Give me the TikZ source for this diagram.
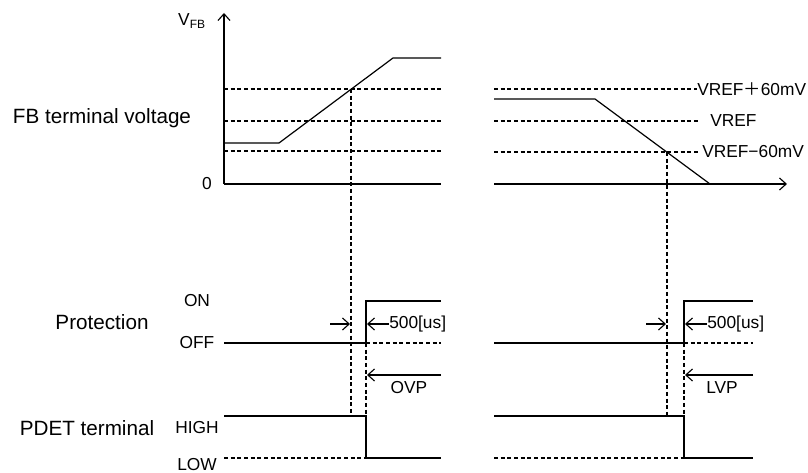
\documentclass[tikz,border=0pt]{standalone}
\usepackage{fontspec}
\setmainfont{Liberation Sans}
\newfontfamily\cjkfont{Noto Sans CJK JP}
\usetikzlibrary{calc, positioning, arrows.meta}

\begin{document}
\begin{tikzpicture}[x=0.75pt, y=-0.75pt,
        sig/.style={line width=0.9pt},
        guide/.style={line width=0.85pt, dash pattern=on 3pt off 2pt},
        tip/.style={line width=0.85pt, -{Straight Barb[length=5pt, width=9pt]}},
        big/.style={font=\fontsize{15.5}{18}\selectfont, inner sep=0pt},
        small/.style={font=\fontsize{13}{15}\selectfont, inner sep=0pt}]
        \useasboundingbox (0,0) rectangle (808,473);

        % axes
        \coordinate (o1) at (224,184);
        \coordinate (ytop) at (224,13);
        \coordinate (x1end) at (441,184);
        \coordinate (o2) at (494,184);
        \coordinate (x2end) at (787,184);
        \draw[tip] (o1) -- (ytop);
        \draw[sig] (o1) -- (x1end);
        \draw[tip] (o2) -- (x2end);

        % reference levels
        \foreach \y in {89,121,151}
            \draw[guide] (224,\y) -- (441,\y);
        \draw[guide] (494,89) -- (697,89);
        \draw[guide] (494,121) -- (700,121);
        \draw[guide] (494,152) -- (700,152);

        % FB voltage
        \draw[sig] (224,143) -- (279,143) -- (393,58) -- (441,58);
        \draw[sig] (494,99) -- (595,99) -- (710,184);

        % detection instants
        \draw[guide] (351,89) -- (351,416);
        \draw[guide] (667,152) -- (667,416);

        % protection, left
        \draw[sig] (224,343) -- (366,343) -- (366,301) -- (441,301);
        \draw[guide] (366,343) -- (441,343);
        \draw[guide] (366,343) -- (366,416);
        \draw[tip] (330,324) -- (350,324);
        \draw[tip] (389,324) -- (367,324);
        \draw[tip] (441,375) -- (367,375);
        \node[small, anchor=west] (dly1) at (389,324) {500[us]};
        \node[small] (ovp) at (409,388) {OVP};

        % protection, right
        \draw[sig] (494,343) -- (684,343) -- (684,301) -- (753,301);
        \draw[guide] (684,343) -- (753,343);
        \draw[guide] (684,343) -- (684,416);
        \draw[tip] (646,324) -- (666,324);
        \draw[tip] (707,324) -- (685,324);
        \draw[tip] (753,375) -- (685,375);
        \node[small, anchor=west] (dly2) at (707,324) {500[us]};
        \node[small] (lvp) at (722,388) {LVP};

        % PDET
        \draw[sig] (224,416) -- (366,416) -- (366,458) -- (441,458);
        \draw[guide] (224,458) -- (366,458);
        \draw[sig] (494,416) -- (684,416) -- (684,458) -- (753,458);
        \draw[guide] (494,458) -- (684,458);

        % level labels
        \node[small, anchor=west] (vp) at (697,89) {VREF{\cjkfont ＋}60mV};
        \node[small, anchor=west] (vr) at (710,121) {VREF};
        \node[small, anchor=west] (vm) at (702,152) {VREF−60mV};

        % left labels
        \node[small] (vfb) at (192,21) {V\textsubscript{\fontsize{9}{10}\selectfont FB}};
        \node[small] (zero) at (207,184) {0};
        \node[small] (on) at (197,301) {ON};
        \node[small] (off) at (197,343) {OFF};
        \node[small] (high) at (197,428) {HIGH};
        \node[small] (low) at (197,465) {LOW};
        \node[big] (fbv) at (102,118) {FB terminal voltage};
        \node[big] (prot) at (102,322) {Protection};
        \node[big] (pdet) at (87,428) {PDET terminal};
    \end{tikzpicture}
\end{document}
